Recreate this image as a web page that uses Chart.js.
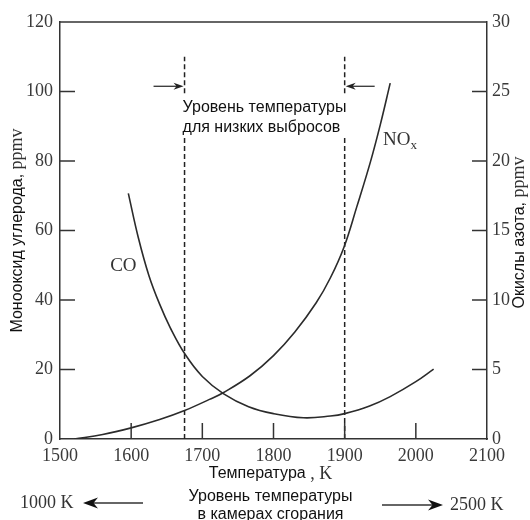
<!DOCTYPE html>
<html lang="ru">
  <head>
    <meta charset="UTF-8" />
    <title>CO и NOx в зависимости от температуры</title>
    <script src="https://cdn.jsdelivr.net/npm/chart.js@4"></script>
    <style>
      body {
        margin: 0;
        padding: 0;
        background-color: #fff;
      }
      .box {
        width: 530px;
        height: 520px;
      }
    </style>
  </head>

  <body>
    <div class="box"><canvas id="emissions" width="530" height="520"></canvas></div>
    <script>
      // CO, ppmv (левая шкала)
      const coTemp = [1596, 1610, 1625, 1640, 1655, 1676, 1700, 1730, 1765, 1800, 1842, 1880, 1900, 1935, 1964, 2000, 2025];
      const coPpm = [70.7, 58.0, 47.0, 38.8, 32.0, 24.3, 18.0, 13.0, 9.3, 7.3, 6.1, 6.6, 7.3, 9.5, 12.2, 16.5, 20.1];

      // NOx, ppmv (правая шкала)
      const noxTemp = [1520, 1560, 1600, 1640, 1675, 1710, 1730, 1767, 1800, 1830, 1860, 1880, 1899, 1917, 1936, 1950, 1964];
      const noxPpm = [0, 0.32, 0.8, 1.4, 2.05, 2.85, 3.35, 4.55, 6.0, 7.7, 9.8, 11.6, 13.8, 16.7, 19.9, 22.6, 25.6];

      // границы уровня температуры для низких выбросов
      const limitTemps = [1675, 1900];

      const xRange = [1500, 2100];
      const coRange = [0, 120];
      const noxRange = [0, 30];

      const serif = '"Liberation Serif", "DejaVu Serif", serif';
      const sans = '"Liberation Sans", Arial, sans-serif';
      const ink = "#2b2b2b";

      const toPts = (xs, ys) => xs.map((x, i) => ({ x: x, y: ys[i] }));

      // вертикальные пунктиры с разрывом под надпись
      const limitLine = (t) => ({
        data: [
          { x: t, y: 0 },
          { x: t, y: 87 },
          { x: t, y: null },
          { x: t, y: 99.5 },
          { x: t, y: 110 },
        ],
        yAxisID: "y",
        borderColor: "#222",
        borderWidth: 1.5,
        borderDash: [5, 3],
        pointRadius: 0,
        tension: 0,
        spanGaps: false,
      });

      function line(ctx, x1, y1, x2, y2) {
        ctx.beginPath();
        ctx.moveTo(x1, y1);
        ctx.lineTo(x2, y2);
        ctx.stroke();
      }

      function arrow(ctx, x1, y, x2, head, half) {
        const dir = Math.sign(x2 - x1);
        line(ctx, x1, y, x2 - dir * head * 0.6, y);
        ctx.beginPath();
        ctx.moveTo(x2, y);
        ctx.lineTo(x2 - dir * head, y - half);
        ctx.lineTo(x2 - dir * head * 0.7, y);
        ctx.lineTo(x2 - dir * head, y + half);
        ctx.closePath();
        ctx.fill();
      }

      const decor = {
        id: "decor",
        afterDraw(chart) {
          const { ctx, chartArea: a } = chart;
          const x = chart.scales.x;
          const y = chart.scales.y;
          const y1 = chart.scales.y1;
          ctx.save();
          ctx.strokeStyle = "#333";
          ctx.fillStyle = "#222";
          ctx.lineWidth = 1.5;

          // рамка сверху
          line(ctx, a.left, a.top, a.right, a.top);

          // внутренние засечки
          y.ticks.forEach((t) => {
            if (t.value > y.min && t.value < y.max) {
              const p = y.getPixelForValue(t.value);
              line(ctx, a.left, p, a.left + 15, p);
            }
          });
          y1.ticks.forEach((t) => {
            if (t.value > y1.min && t.value < y1.max) {
              const p = y1.getPixelForValue(t.value);
              line(ctx, a.right - 15, p, a.right, p);
            }
          });
          x.ticks.forEach((t) => {
            if (t.value > x.min && t.value < x.max) {
              const p = x.getPixelForValue(t.value);
              line(ctx, p, a.bottom, p, a.bottom - 16);
            }
          });

          // стрелки к пунктирам
          ctx.lineWidth = 1.3;
          const ay = y.getPixelForValue(101.5);
          const lx = x.getPixelForValue(limitTemps[0]);
          const rx = x.getPixelForValue(limitTemps[1]);
          arrow(ctx, lx - 31, ay, lx - 1, 10, 3.5);
          arrow(ctx, rx + 30, ay, rx + 1, 10, 3.5);

          // надпись между пунктирами
          ctx.fillStyle = "#111";
          ctx.font = "16px " + sans;
          ctx.textAlign = "left";
          ctx.textBaseline = "middle";
          ctx.fillText("Уровень температуры", lx - 2, y.getPixelForValue(95.3));
          ctx.fillText("для низких выбросов", lx - 2, y.getPixelForValue(89.5));

          // подписи кривых
          ctx.fillStyle = "#333";
          ctx.font = "19px " + serif;
          ctx.textAlign = "center";
          ctx.fillText("CO", x.getPixelForValue(1589), y.getPixelForValue(49.9));
          ctx.textAlign = "left";
          const nx = x.getPixelForValue(1954);
          const ny = y1.getPixelForValue(21.5);
          ctx.fillText("NO", nx, ny);
          const nw = ctx.measureText("NO").width;
          ctx.font = "13px " + serif;
          ctx.fillText("x", nx + nw, ny + 5);

          // заголовки осей
          const vTitle = (cx, cy, a1, a2) => {
            ctx.save();
            ctx.translate(cx, cy);
            ctx.rotate(-Math.PI / 2);
            ctx.font = "16px " + sans;
            const w1 = ctx.measureText(a1).width;
            ctx.font = "18px " + serif;
            const w2 = ctx.measureText(a2).width;
            const s = -(w1 + w2) / 2;
            ctx.textAlign = "left";
            ctx.textBaseline = "middle";
            ctx.fillStyle = "#111";
            ctx.font = "16px " + sans;
            ctx.fillText(a1, s, 0);
            ctx.fillStyle = "#333";
            ctx.font = "18px " + serif;
            ctx.fillText(a2, s + w1, -1);
            ctx.restore();
          };
          const mid = (a.top + a.bottom) / 2;
          vTitle(a.left - 42, mid, "Монооксид углерода, ", "ppmv");
          vTitle(a.right + 33, mid + 2, "Окислы азота, ", "ppmv");

          // подписи под осью X
          ctx.textBaseline = "middle";
          const t1 = "Температура";
          const t2 = " , K";
          ctx.font = "18px " + serif;
          const w2 = ctx.measureText(t2).width;
          ctx.font = "16px " + sans;
          const w1 = ctx.measureText(t1).width;
          const cx = (a.left + a.right) / 2 - 3;
          ctx.fillStyle = "#111";
          ctx.textAlign = "left";
          ctx.fillText(t1, cx - (w1 + w2) / 2, a.bottom + 35);
          ctx.fillStyle = "#333";
          ctx.font = "18px " + serif;
          ctx.fillText(t2, cx - (w1 + w2) / 2 + w1, a.bottom + 35);

          ctx.fillStyle = "#111";
          ctx.font = "16px " + sans;
          ctx.textAlign = "center";
          ctx.fillText("Уровень температуры", cx, a.bottom + 58);
          ctx.fillText("в камерах сгорания", cx, a.bottom + 76);

          ctx.fillStyle = "#333";
          ctx.font = "18px " + serif;
          ctx.textAlign = "left";
          ctx.fillText("1000 K", 20, a.bottom + 64);
          ctx.fillText("2500 K", 450, a.bottom + 66);
          ctx.fillStyle = "#111";
          ctx.lineWidth = 1.5;
          arrow(ctx, 143, a.bottom + 64, 83, 15, 5.5);
          arrow(ctx, 382, a.bottom + 66, 443, 15, 5.5);

          ctx.restore();
        },
      };

      const tickFont = { family: serif, size: 18 };
      const plain = (v) => String(v);

      new Chart(document.getElementById("emissions"), {
        type: "line",
        data: {
          datasets: [
            {
              label: "CO",
              data: toPts(coTemp, coPpm),
              yAxisID: "y",
              borderColor: ink,
              borderWidth: 1.6,
              pointRadius: 0,
              tension: 0.4,
            },
            {
              label: "NOx",
              data: toPts(noxTemp, noxPpm),
              yAxisID: "y1",
              borderColor: ink,
              borderWidth: 1.6,
              pointRadius: 0,
              tension: 0.4,
            },
            limitLine(limitTemps[0]),
            limitLine(limitTemps[1]),
          ],
        },
        options: {
          responsive: false,
          animation: false,
          events: [],
          layout: { padding: { top: 22 } },
          plugins: {
            legend: { display: false },
            tooltip: { enabled: false },
          },
          scales: {
            x: {
              type: "linear",
              min: xRange[0],
              max: xRange[1],
              ticks: { stepSize: 100, font: tickFont, color: "#3a3a3a", padding: 6, callback: plain },
              grid: { display: false, drawTicks: false },
              border: { color: "#333", width: 1.5 },
              afterFit: (s) => { s.height = 81; },
            },
            y: {
              position: "left",
              min: coRange[0],
              max: coRange[1],
              ticks: { stepSize: 20, font: tickFont, color: "#3a3a3a", padding: 7, callback: plain },
              grid: { display: false, drawTicks: false },
              border: { color: "#333", width: 1.5 },
              afterFit: (s) => { s.width = 60; },
            },
            y1: {
              position: "right",
              min: noxRange[0],
              max: noxRange[1],
              ticks: { stepSize: 5, font: tickFont, color: "#3a3a3a", padding: 5, callback: plain },
              grid: { display: false, drawTicks: false },
              border: { color: "#333", width: 1.5 },
              afterFit: (s) => { s.width = 43; },
            },
          },
        },
        plugins: [decor],
      });
    </script>
  </body>
</html>
